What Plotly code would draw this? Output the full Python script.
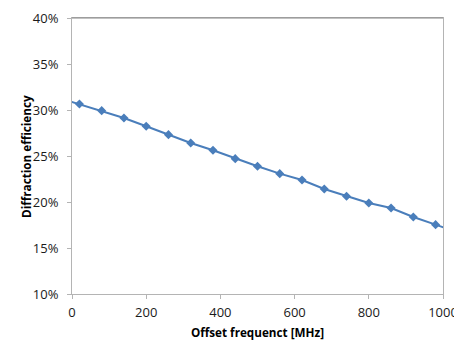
import plotly.graph_objects as go

# Offset frequency (MHz); first and last points lie just outside the axis range
freq_mhz = [-40, 20, 80, 140, 200, 260, 320, 380, 440, 500, 560, 620, 680, 740, 800, 860, 920, 980, 1040]
# Diffraction efficiency (fraction)
efficiency = [0.3137, 0.3065, 0.2993, 0.2913, 0.2823, 0.2732, 0.2641, 0.2562, 0.2471, 0.2388,
              0.2308, 0.2239, 0.2141, 0.2062, 0.1989, 0.1935, 0.1837, 0.1754, 0.1670]

x_ticks = [0, 200, 400, 600, 800, 1000]
y_ticks = [0.10, 0.15, 0.20, 0.25, 0.30, 0.35, 0.40]

font_family = "Open Sans, Lato, Liberation Sans, sans-serif"

fig = go.Figure()
fig.add_trace(go.Scatter(
    x=freq_mhz, y=efficiency, mode="lines+markers",
    line=dict(color="#4A7EBB", width=2),
    marker=dict(symbol="diamond", size=7, color="#4A7EBB"),
    showlegend=False,
))

axis_common = dict(
    showgrid=False, zeroline=False, showline=True, linecolor="#B4B4B4", linewidth=1,
    mirror=True, ticks="outside", ticklen=4, tickcolor="#B4B4B4", automargin=False,
    tickfont=dict(family=font_family, size=13, color="#1a1a1a"),
)

# The page body has an 8px default margin, so the figure is offset by 8px.
fig.update_layout(
    width=454, height=340,
    margin=dict(l=64, r=19, t=10, b=54),
    paper_bgcolor="white", plot_bgcolor="white",
    xaxis=dict(range=[0, 1000], tickvals=x_ticks, ticklabelstandoff=2,
               title=dict(text="<b>Offset frequenct [MHz]</b>", standoff=9,
                          font=dict(family=font_family, size=11.7, color="#000000")),
               **axis_common),
    yaxis=dict(range=[0.10, 0.40], tickvals=y_ticks, tickformat=".0%", ticklabelstandoff=6,
               **axis_common),
    annotations=[dict(text="<b>Diffraction efficiency</b>", textangle=-90,
                      xref="paper", yref="paper", x=-0.124, y=0.5,
                      xanchor="center", yanchor="middle", showarrow=False,
                      font=dict(family=font_family, size=11.7, color="#000000"))],
    shapes=[dict(type="line", xref="paper", yref="paper", x0=0, x1=1, y0=1, y1=1,
                 line=dict(color="#868686", width=1))],
)

fig.write_html("out.html")
